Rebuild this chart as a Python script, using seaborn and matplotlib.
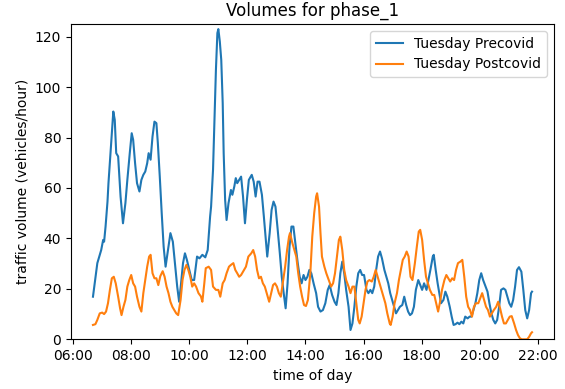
import matplotlib
matplotlib.use("Agg")
import matplotlib.pyplot as plt
import matplotlib.dates as mdates
import pandas as pd
import seaborn as sns

# Tuesday volumes before COVID (time of day, vehicles/hour)
precovid_times = [
    "06:41", "06:50", "06:58", "07:02", "07:04", "07:07", "07:11", "07:13", "07:18", "07:23", "07:26", "07:29", "07:33", "07:38", "07:43", "07:48", "07:52", "07:57",
    "08:01", "08:04", "08:08", "08:12", "08:17", "08:21", "08:25", "08:29", "08:33", "08:36", "08:40", "08:44", "08:48", "08:52", "08:55", "08:59",
    "09:03", "09:07", "09:11", "09:15", "09:21", "09:26", "09:31", "09:35", "09:39", "09:43", "09:47", "09:51", "09:55",
    "10:00", "10:05", "10:10", "10:16", "10:21", "10:27", "10:33", "10:38", "10:43", "10:45", "10:49", "10:52", "10:55", "10:58",
    "11:00", "11:03", "11:06", "11:09", "11:11", "11:14", "11:17", "11:21", "11:26", "11:29", "11:33", "11:36", "11:39", "11:43", "11:47", "11:51", "11:55", "11:59",
    "12:03", "12:09", "12:13", "12:17", "12:21", "12:25", "12:30", "12:34", "12:38", "12:41", "12:46", "12:50", "12:54", "12:58",
    "13:02", "13:07", "13:11", "13:15", "13:19", "13:23", "13:27", "13:31", "13:35", "13:40", "13:44", "13:48", "13:52", "13:56",
    "14:00", "14:04", "14:08", "14:12", "14:17", "14:22", "14:26", "14:31", "14:36", "14:41", "14:46", "14:50", "14:55",
    "15:00", "15:04", "15:08", "15:12", "15:16", "15:20", "15:24", "15:29", "15:33", "15:37", "15:41", "15:45", "15:49", "15:53", "15:57",
    "16:01", "16:06", "16:10", "16:14", "16:18", "16:22", "16:26", "16:30", "16:34", "16:38", "16:43", "16:47", "16:51", "16:55", "16:59",
    "17:03", "17:07", "17:11", "17:15", "17:20", "17:24", "17:28", "17:32", "17:36", "17:40", "17:44", "17:48", "17:53", "17:57",
    "18:01", "18:05", "18:10", "18:14", "18:18", "18:23", "18:25", "18:29", "18:33", "18:40", "18:45", "18:49", "18:53", "18:58",
    "19:02", "19:06", "19:10", "19:14", "19:18", "19:22", "19:26", "19:30", "19:35", "19:39", "19:43", "19:47", "19:51", "19:55", "19:59",
    "20:03", "20:07", "20:12", "20:16", "20:20", "20:24", "20:28", "20:32", "20:36", "20:40", "20:44", "20:49", "20:53", "20:57",
    "21:01", "21:05", "21:09", "21:13", "21:17", "21:21", "21:26", "21:30", "21:34", "21:38", "21:42", "21:46", "21:48",
]
precovid_volume = [
    16.9, 30.2, 35.4, 39.4, 38.7, 44.7, 54.6, 61.9, 76.4, 90.3, 87.0, 73.8, 72.5, 56.6, 46.0, 54.0, 63.2, 73.8,
    81.7, 79.1, 69.8, 61.9, 58.6, 63.2, 65.2, 66.5, 69.8, 73.8, 71.2, 80.4, 86.3, 85.7, 77.8, 64.5,
    50.0, 36.7, 28.8, 34.1, 42.1, 38.7, 28.8, 20.9, 14.9, 22.2, 30.2, 34.1, 31.5,
    27.5, 23.5, 23.5, 32.8, 32.1, 33.5, 32.5, 35.4, 48.7, 52.6, 67.2, 87.0, 106.9, 121.4,
    123.0, 118.1, 110.8, 93.7, 73.8, 55.3, 47.3, 54.0, 59.2, 57.3, 60.6, 63.9, 61.9, 63.2, 64.5, 56.6, 46.0, 55.3,
    63.2, 65.2, 62.5, 56.6, 62.5, 62.5, 57.3, 48.7, 39.4, 32.8, 42.1, 51.3, 54.6, 52.6,
    44.7, 34.1, 24.8, 18.3, 12.3, 22.2, 36.7, 44.7, 44.7, 36.7, 30.2, 24.8, 22.2, 25.5,
    23.5, 24.8, 27.5, 26.2, 22.0, 18.3, 12.9, 11.0, 11.6, 14.3, 19.6, 21.5, 17.6,
    14.9, 13.6, 18.3, 26.2, 30.8, 26.2, 19.6, 12.9, 3.7, 6.3, 12.9, 20.9, 26.2, 27.5, 25.5,
    25.5, 19.6, 18.3, 19.6, 18.3, 20.9, 27.5, 32.8, 34.8, 32.1, 27.5, 24.8, 22.2, 18.3, 15.6,
    12.9, 10.3, 11.6, 12.9, 13.6, 16.9, 13.6, 11.0, 9.6, 10.3, 12.9, 19.6, 23.5, 21.5,
    19.6, 22.2, 19.6, 23.5, 27.5, 32.8, 33.5, 27.5, 22.2, 14.3, 15.6, 18.9, 16.9, 12.9,
    9.0, 5.7, 6.0, 6.6, 6.0, 7.0, 6.3, 9.0, 8.3, 9.0, 9.0, 11.6, 14.3, 18.3, 23.5,
    26.2, 23.5, 20.9, 18.9, 14.3, 10.3, 7.7, 6.3, 7.7, 12.9, 19.6, 20.2, 19.6, 16.9,
    14.3, 12.9, 15.6, 20.9, 27.5, 28.6, 26.8, 19.6, 11.6, 8.3, 11.6, 18.3, 18.9,
]

# Tuesday volumes after COVID
postcovid_times = [
    "06:41", "06:46", "06:50", "06:55", "07:00", "07:04", "07:08", "07:12", "07:16", "07:20", "07:24", "07:28", "07:33", "07:37", "07:40", "07:44", "07:48", "07:52", "07:56",
    "08:00", "08:04", "08:08", "08:12", "08:17", "08:21", "08:25", "08:29", "08:33", "08:37", "08:40", "08:44", "08:48", "08:52", "08:56",
    "09:00", "09:05", "09:09", "09:13", "09:17", "09:21", "09:25", "09:29", "09:33", "09:37", "09:42", "09:46", "09:50", "09:54", "09:58",
    "10:02", "10:06", "10:10", "10:14", "10:19", "10:24", "10:27", "10:31", "10:34", "10:40", "10:45", "10:49", "10:55",
    "11:00", "11:04", "11:09", "11:13", "11:17", "11:22", "11:26", "11:31", "11:35", "11:39", "11:43", "11:47", "11:51", "11:57",
    "12:02", "12:08", "12:12", "12:16", "12:20", "12:24", "12:28", "12:32", "12:36", "12:40", "12:45", "12:49", "12:53", "12:57",
    "13:01", "13:05", "13:09", "13:13", "13:18", "13:22", "13:26", "13:28", "13:33", "13:37", "13:41", "13:45", "13:49", "13:53", "13:57",
    "14:01", "14:05", "14:10", "14:14", "14:18", "14:22", "14:24", "14:28", "14:31", "14:34", "14:39", "14:43", "14:48", "14:53", "14:57",
    "15:01", "15:05", "15:09", "15:12", "15:16", "15:20", "15:24", "15:29", "15:33", "15:37", "15:41", "15:45", "15:49", "15:52", "15:56",
    "16:00", "16:04", "16:08", "16:12", "16:17", "16:21", "16:25", "16:29", "16:33", "16:37", "16:41", "16:45", "16:49", "16:54", "16:56",
    "17:00", "17:04", "17:09", "17:13", "17:17", "17:21", "17:25", "17:29", "17:33", "17:37", "17:41", "17:46", "17:50", "17:54", "17:57",
    "18:01", "18:05", "18:09", "18:13", "18:17", "18:22", "18:26", "18:30", "18:34", "18:38", "18:42", "18:47", "18:51", "18:55", "18:59",
    "19:03", "19:07", "19:11", "19:15", "19:20", "19:24", "19:28", "19:32", "19:36", "19:40", "19:44", "19:48", "19:52", "19:57",
    "20:01", "20:05", "20:09", "20:13", "20:17", "20:21", "20:25", "20:29", "20:34", "20:38", "20:42", "20:46", "20:50", "20:54", "20:58",
    "21:02", "21:06", "21:11", "21:15", "21:19", "21:23", "21:27", "21:32", "21:38", "21:42", "21:46", "21:48",
]
postcovid_volume = [
    5.7, 6.0, 7.7, 10.3, 10.6, 10.0, 11.0, 14.3, 19.6, 24.2, 24.8, 22.2, 16.9, 12.3, 9.6, 12.9, 15.6, 20.9, 23.5,
    25.5, 22.2, 20.9, 16.9, 12.9, 11.0, 18.3, 23.5, 28.8, 32.8, 33.5, 26.2, 24.2, 24.2, 21.5,
    25.0, 27.0, 24.8, 20.9, 18.3, 14.9, 12.9, 11.6, 10.3, 9.6, 15.6, 23.5, 27.5, 29.5, 27.5,
    24.8, 20.9, 22.2, 20.9, 18.3, 17.0, 14.9, 22.2, 28.2, 28.8, 27.5, 20.9, 19.6,
    19.6, 16.9, 22.2, 23.5, 26.2, 28.8, 29.5, 30.2, 27.5, 26.2, 24.8, 25.5, 26.8, 28.8,
    32.8, 34.1, 35.4, 32.8, 27.5, 24.2, 24.8, 22.2, 20.9, 18.3, 14.9, 18.3, 21.5, 22.2,
    20.9, 18.3, 16.9, 22.2, 28.8, 35.4, 40.7, 42.1, 38.1, 35.4, 32.8, 26.2, 20.9, 16.9, 13.6,
    13.2, 15.6, 26.2, 40.7, 50.0, 56.6, 57.9, 52.6, 42.1, 32.8, 28.8, 26.2, 23.5, 20.9, 22.2,
    26.2, 32.8, 39.4, 40.7, 35.4, 27.5, 23.5, 20.9, 18.3, 20.9, 20.9, 14.3, 7.7, 6.3, 9.0,
    14.3, 19.6, 22.9, 23.5, 22.9, 24.8, 27.5, 24.8, 22.2, 19.6, 16.9, 14.3, 10.3, 6.3, 5.7,
    9.0, 14.3, 18.3, 23.5, 27.5, 31.5, 32.8, 34.8, 32.8, 24.8, 23.5, 30.2, 36.7, 42.7, 43.4,
    39.4, 31.5, 24.8, 22.2, 19.6, 17.6, 17.6, 14.3, 11.0, 14.9, 19.6, 23.5, 25.5, 24.2, 22.9,
    24.2, 23.5, 27.5, 30.2, 30.8, 31.5, 24.8, 16.9, 12.9, 11.6, 9.0, 12.9, 14.3, 14.3,
    16.3, 18.3, 15.6, 12.9, 11.6, 9.0, 10.3, 11.6, 12.9, 14.9, 12.3, 9.0, 6.3, 6.3, 7.7,
    9.0, 9.2, 6.3, 3.7, 1.7, 0.4, 0.0, 0.0, 0.0, 1.0, 2.4, 2.8,
]


def as_datetimes(times):
    return pd.to_datetime(["2020-03-03 " + t for t in times])


precovid = pd.DataFrame({"time": as_datetimes(precovid_times), "volume": precovid_volume})
postcovid = pd.DataFrame({"time": as_datetimes(postcovid_times), "volume": postcovid_volume})

fig, ax = plt.subplots(figsize=(5.65, 3.89), dpi=100)
fig.subplots_adjust(left=0.1257, right=0.9805, top=0.9383, bottom=0.1277)

sns.lineplot(data=precovid, x="time", y="volume", ax=ax, color="tab:blue",
             linewidth=1.5, label="Tuesday Precovid")
sns.lineplot(data=postcovid, x="time", y="volume", ax=ax, color="tab:orange",
             linewidth=1.5, label="Tuesday Postcovid")

ax.xaxis.set_major_locator(mdates.HourLocator(byhour=range(0, 24, 2)))
ax.xaxis.set_major_formatter(mdates.DateFormatter("%H:%M"))
ax.set_ylim(0, 125)

ax.set_title("Volumes for phase_1")
ax.set_xlabel("time of day")
ax.set_ylabel("traffic volume (vehicles/hour)")
ax.legend(loc="upper right")

fig.savefig("out.png", dpi=100)
